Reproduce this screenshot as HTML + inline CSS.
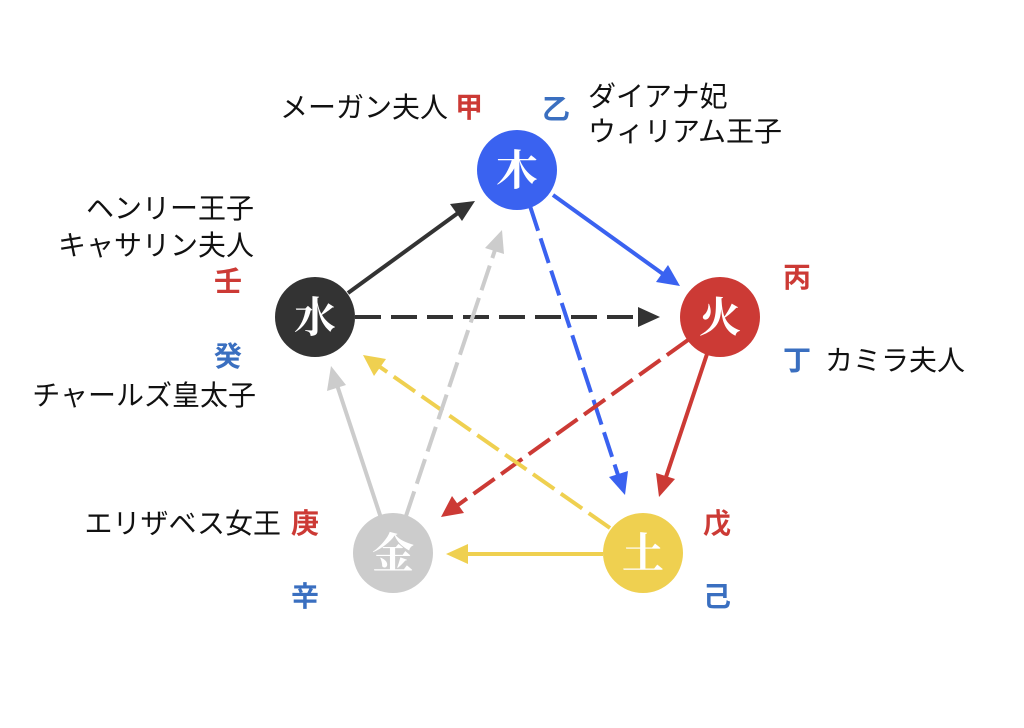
<!DOCTYPE html>
<html><head><meta charset="utf-8"><style>
html,body{margin:0;padding:0;background:#fff;}
svg text{font-family:"Liberation Sans","Noto Sans CJK JP",sans-serif;}
svg text.ser{font-family:"Liberation Serif","Noto Serif CJK SC",serif;}
</style></head><body>
<svg width="1024" height="723" viewBox="0 0 1024 723" xmlns="http://www.w3.org/2000/svg">
<g stroke-width="4" fill="none" stroke-linecap="butt">
<line x1="348" y1="293" x2="458" y2="213" stroke="#333"/>
<line x1="553" y1="195" x2="663" y2="274" stroke="#3a62f0"/>
<line x1="355" y1="317" x2="640" y2="317" stroke="#333" stroke-dasharray="26,10"/>
<line x1="530" y1="206" x2="618" y2="475" stroke="#3a62f0" stroke-dasharray="26,8"/>
<line x1="707" y1="354" x2="666" y2="477" stroke="#cc3a35"/>
<line x1="688" y1="340" x2="458" y2="505" stroke="#cc3a35" stroke-dasharray="26,8"/>
<line x1="603" y1="554" x2="466" y2="554" stroke="#efd050"/>
<line x1="610" y1="528" x2="380" y2="367" stroke="#efd050" stroke-dasharray="26,8"/>
<line x1="381" y1="518" x2="337" y2="385" stroke="#cccccc"/>
<line x1="406" y1="516" x2="495" y2="250" stroke="#cccccc" stroke-dasharray="26,8"/>
</g>
<g>
<polygon points="475,201 450,204 462,221" fill="#333"/>
<polygon points="680,286 656,282 668,265" fill="#3a62f0"/>
<polygon points="660,317 638,307 638,327" fill="#333"/>
<polygon points="625,495 609,477 628,471" fill="#3a62f0"/>
<polygon points="659,497 656,473 675,479" fill="#cc3a35"/>
<polygon points="441,517 452,496 464,513" fill="#cc3a35"/>
<polygon points="446,554 468,544 468,564" fill="#efd050"/>
<polygon points="363,355 386,359 374,376" fill="#efd050"/>
<polygon points="331,366 346,385 327,391" fill="#cccccc"/>
<polygon points="502,230 504,254 485,248" fill="#cccccc"/>
</g>
<g>
<circle cx="517" cy="170" r="40" fill="#3a62f0"/>
<circle cx="720" cy="317" r="40" fill="#cc3a35"/>
<circle cx="643" cy="553" r="40" fill="#efd050"/>
<circle cx="393" cy="553" r="40" fill="#cccccc"/>
<circle cx="315" cy="317" r="40" fill="#333"/>
</g>
<g fill="#fff" font-size="42" font-weight="bold" text-anchor="middle">
<text class="ser" x="517" y="185">木</text>
<text class="ser" x="720" y="332">火</text>
<text class="ser" x="643" y="568">土</text>
<text class="ser" x="393" y="568">金</text>
<text class="ser" x="315" y="332">水</text>
</g>
<g font-size="28" fill="#111">
<text x="280" y="117">メーガン夫人</text>
<text x="588" y="106">ダイアナ妃</text>
<text x="588" y="141">ウィリアム王子</text>
<text x="254" y="218" text-anchor="end">ヘンリー王子</text>
<text x="254" y="255" text-anchor="end">キャサリン夫人</text>
<text x="256" y="405" text-anchor="end">チャールズ皇太子</text>
<text x="825" y="370">カミラ夫人</text>
<text x="281" y="533" text-anchor="end">エリザベス女王</text>
</g>
<g font-size="28" font-weight="600">
<text x="455" y="117" fill="#cc3a35">甲</text>
<text x="542" y="119" fill="#3a6fc0">乙</text>
<text x="214" y="291" fill="#cc3a35">壬</text>
<text x="214" y="366" fill="#3a6fc0">癸</text>
<text x="783" y="287" fill="#cc3a35">丙</text>
<text x="783" y="370" fill="#3a6fc0">丁</text>
<text x="291" y="533" fill="#cc3a35">庚</text>
<text x="291" y="606" fill="#3a6fc0">辛</text>
<text x="703" y="533" fill="#cc3a35">戊</text>
<text x="703" y="606" fill="#3a6fc0">己</text>
</g>
</svg>
</body></html>
